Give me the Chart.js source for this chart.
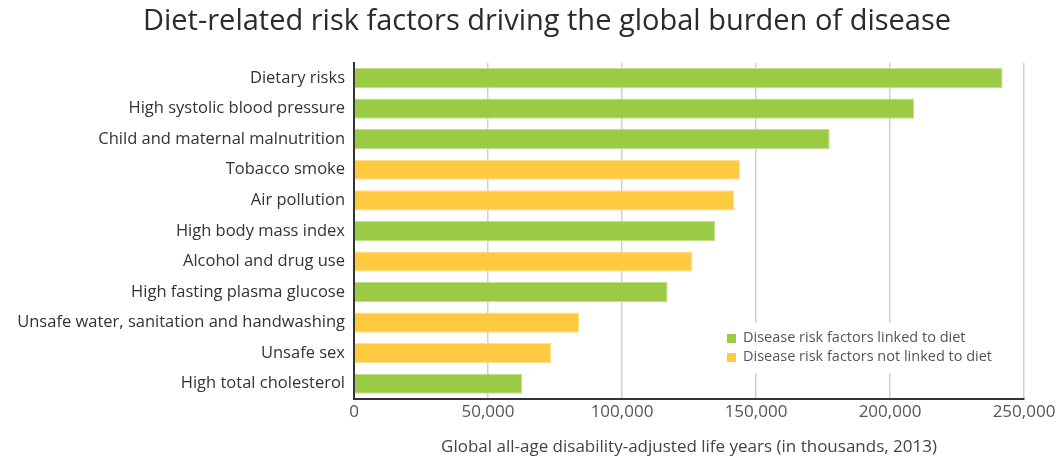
<!DOCTYPE html>
<html>
<head>
<meta charset="utf-8">
<script src="https://cdn.jsdelivr.net/npm/chart.js@4/dist/chart.umd.min.js"></script>
<style>
  html, body { margin: 0; padding: 0; background: #fff; }
  #wrap { width: 1061px; height: 461px; }
</style>
</head>
<body>
<div id="wrap"><canvas id="dietChart" width="1061" height="461"></canvas></div>
<script>
// values (thousands of DALYs)
const riskFactors = [
  'Dietary risks', 'High systolic blood pressure', 'Child and maternal malnutrition',
  'Tobacco smoke', 'Air pollution', 'High body mass index', 'Alcohol and drug use',
  'High fasting plasma glucose', 'Unsafe water, sanitation and handwashing',
  'Unsafe sex', 'High total cholesterol'
];
const dalys = [242000, 209000, 177500, 144000, 141800, 134700, 126300, 117000, 84000, 73500, 62700];
const linkedToDiet = [true, true, true, false, false, true, false, true, false, false, true];
const xTicks = [0, 50000, 100000, 150000, 200000, 250000];

const GREEN = '#9bca44';
const YELLOW = '#ffc940';
const seriesNames = ['Disease risk factors linked to diet', 'Disease risk factors not linked to diet'];

const linkedVals = dalys.map((v, i) => linkedToDiet[i] ? v : null);
const notLinkedVals = dalys.map((v, i) => linkedToDiet[i] ? null : v);

// title in the original sits a bit right of the canvas centre
const shiftTitle = {
  id: 'shiftTitle',
  afterLayout(chart) {
    if (chart.titleBlock) {
      chart.titleBlock.left = 70;
      chart.titleBlock.right = 1024;
    }
  }
};

// legend drawn inside the plot, bottom right, over a white patch
const insideLegend = {
  id: 'insideLegend',
  afterDraw(chart) {
    const ctx = chart.ctx;
    ctx.save();
    ctx.fillStyle = '#fff';
    ctx.fillRect(718, 323, 295, 50);
    ctx.font = '14.5px "Open Sans"';
    ctx.textBaseline = 'middle';
    [GREEN, YELLOW].forEach((c, i) => {
      const y = 338 + i * 19;
      ctx.fillStyle = c;
      ctx.fillRect(727, y - 4, 9, 9);
      ctx.fillStyle = '#555';
      ctx.fillText(seriesNames[i], 743, y);
    });
    ctx.restore();
  }
};

new Chart(document.getElementById('dietChart').getContext('2d'), {
  type: 'bar',
  data: {
    labels: riskFactors,
    datasets: [
      { label: seriesNames[0], data: linkedVals, backgroundColor: GREEN,
        borderColor: '#c3e08c', borderWidth: 1, barPercentage: 0.66, categoryPercentage: 1 },
      { label: seriesNames[1], data: notLinkedVals, backgroundColor: YELLOW,
        borderColor: '#ffe08f', borderWidth: 1, barPercentage: 0.66, categoryPercentage: 1 }
    ]
  },
  options: {
    indexAxis: 'y',
    responsive: false,
    animation: false,
    layout: { padding: { left: 4, right: 37, bottom: 0, top: 0 } },
    plugins: {
      legend: { display: false },
      tooltip: { enabled: false },
      title: {
        display: true,
        text: 'Diet-related risk factors driving the global burden of disease',
        color: '#2b2b2b',
        font: { family: 'Open Sans', size: 29, weight: 'normal' },
        padding: { top: 4, bottom: 24 }
      }
    },
    scales: {
      x: {
        min: 0, max: 250000,
        stacked: true,
        afterBuildTicks(scale) { scale.ticks = xTicks.map(v => ({ value: v })); },
        afterFit(scale) { scale.height = 62; },
        grid: { color: '#d0d0d0', lineWidth: 1.5, drawTicks: false },
        border: { color: '#333', width: 2 },
        ticks: {
          color: '#555', padding: 3,
          font: { family: 'Open Sans', size: 17 },
          callback: v => v.toLocaleString('en-US')
        },
        title: {
          display: true,
          text: 'Global all-age disability-adjusted life years (in thousands, 2013)',
          color: '#444',
          font: { family: 'Open Sans', size: 17 },
          padding: { top: 12 }
        }
      },
      y: {
        stacked: true,
        afterFit(scale) { scale.width = 350; },
        grid: { display: false, drawTicks: false },
        border: { color: '#333', width: 2 },
        ticks: {
          color: '#333', padding: 9,
          font: { family: 'Open Sans', size: 16.5 }
        }
      }
    }
  },
  plugins: [shiftTitle, insideLegend]
});
</script>
</body>
</html>
